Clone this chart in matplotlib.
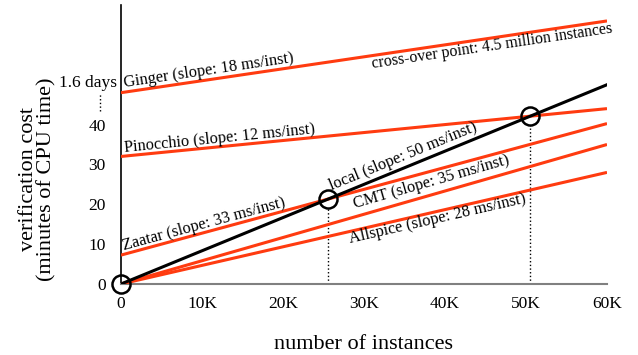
import numpy as np
import matplotlib.pyplot as plt

plt.rcParams['font.family'] = 'Liberation Serif'

# minutes of CPU time; x in instances
x_end = 60000
names = ['Ginger', 'Pinocchio', 'Zaatar', 'CMT', 'Allspice']
intercepts = [48, 32, 7.25, 0, 0]      # minutes (Ginger drawn on broken axis)
slopes_ms = [18, 12, 33, 35, 28]       # ms per instance
local_slope_ms = 50
crossovers = [25600, 50500]

yticks = [0, 10, 20, 30, 40]
yticklabels = ['0', '10', '20', '30', '40']
break_label = '1.6 days'
break_label_y = 50.5
xticks = [0, 10000, 20000, 30000, 40000, 50000, 60000]
xticklabels = ['0', '10K', '20K', '30K', '40K', '50K', '60K']

# label anchors (x, y) in data units
label_pos = {
    'Ginger': (400, 49.3),
    'Pinocchio': (400, 33.2),
    'Zaatar': (400, 8.6),
    'CMT': (28900, 19.0),
    'Allspice': (28300, 10.3),
}
local_label_pos = (26000, 23.5)
cross_text_pos = (31000, 54.3)

red = '#ff3b10'

fig = plt.figure(figsize=(6.38, 3.55), dpi=100)
ax = fig.add_axes([121/638, 1-284/355, 486/638, 279/355])
ax.set_xlim(0, x_end)
ax.set_ylim(0, 70)

def mins(slope_ms, b, x):
    return b + slope_ms * x / 1000 / 60

xs = np.array([0, x_end])
for n, b, s in zip(names, intercepts, slopes_ms):
    ax.plot(xs, mins(s, b, xs), color=red, lw=2.2, solid_capstyle='butt', zorder=3)
ax.plot(xs, mins(local_slope_ms, 0, xs), color='black', lw=2.2, zorder=4)

# crossover markers
cx = [0] + crossovers
cy = [mins(local_slope_ms, 0, c) for c in cx]
ax.plot(cx, cy, 'o', ms=13, mfc='none', mec='black', mew=1.8, zorder=5, clip_on=False)
for c, v in zip(crossovers, cy[1:]):
    ax.plot([c, c], [0, v - 2.3], ls=':', color='black', lw=1)

def angle(slope_ms):
    p0 = ax.transData.transform((0, 0))
    p1 = ax.transData.transform((x_end, slope_ms * x_end / 60000))
    return np.degrees(np.arctan2(p1[1] - p0[1], p1[0] - p0[0]))

fs = 11.8
for n, s in zip(names, slopes_ms):
    lx, ly = label_pos[n]
    ax.text(lx, ly, f'{n} (slope: {s} ms/inst)', rotation=angle(s),
            rotation_mode='anchor', ha='left', va='baseline', fontsize=fs)
ax.text(*local_label_pos, f'local (slope: {local_slope_ms} ms/inst)',
        rotation=angle(local_slope_ms), rotation_mode='anchor',
        ha='left', va='baseline', fontsize=fs)
ax.text(*cross_text_pos, 'cross-over point: 4.5 million instances',
        rotation=angle(18), rotation_mode='anchor', ha='left', va='baseline', fontsize=11.4)

# broken-axis label and dots
ax.text(-0.008, break_label_y, break_label, transform=ax.get_yaxis_transform(),
        ha='right', va='center', fontsize=12.5)
ax.plot([-2600, -2600], [43.5, 48], ls=':', color='black', lw=1, clip_on=False)

ax.set_yticks(yticks)
ax.set_yticklabels(yticklabels)
ax.set_xticks(xticks)
ax.set_xticklabels(xticklabels)
ax.tick_params(length=0, labelsize=12.5)
ax.tick_params(axis='y', pad=11)
ax.tick_params(axis='x', pad=9)

for sp in ['top', 'right']:
    ax.spines[sp].set_visible(False)
ax.spines['bottom'].set_color('#808080')
ax.spines['bottom'].set_linewidth(1.5)
ax.spines['left'].set_linewidth(1.2)

ax.set_xlabel('number of instances', fontsize=16, labelpad=16)
ax.set_ylabel('verification cost\n(minutes of CPU time)', fontsize=16, linespacing=0.95)
ax.yaxis.set_label_coords(-0.132, 0.375)

fig.savefig('out.png', dpi=100)
